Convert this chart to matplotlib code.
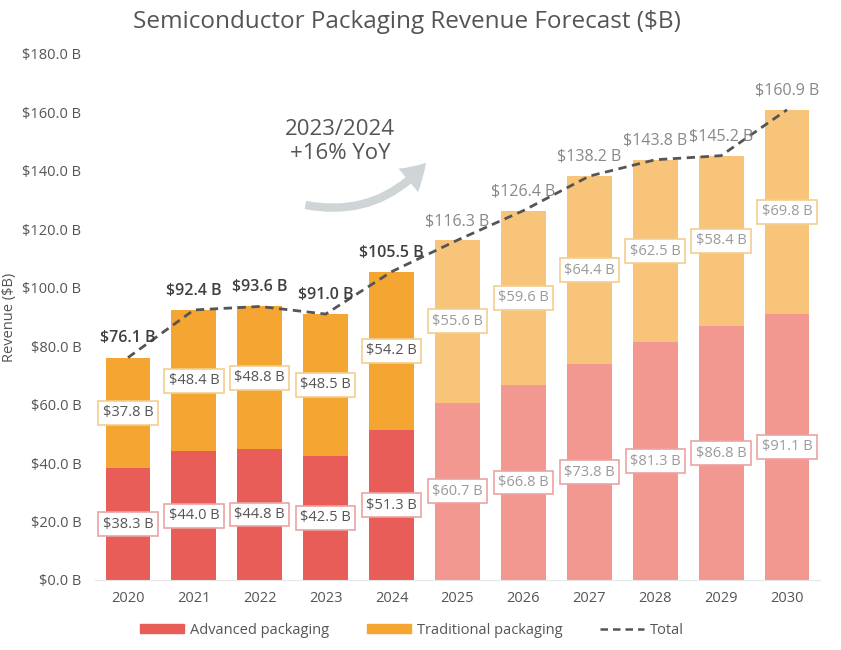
import matplotlib
matplotlib.use("Agg")
import matplotlib.pyplot as plt
from matplotlib.patches import FancyArrowPatch, Patch
from matplotlib.lines import Line2D
import numpy as np

years = ["2020", "2021", "2022", "2023", "2024", "2025", "2026", "2027", "2028", "2029", "2030"]
advanced = [38.3, 44.0, 44.8, 42.5, 51.3, 60.7, 66.8, 73.8, 81.3, 86.8, 91.1]
traditional = [37.8, 48.4, 48.8, 48.5, 54.2, 55.6, 59.6, 64.4, 62.5, 58.4, 69.8]
total = [76.1, 92.4, 93.6, 91.0, 105.5, 116.3, 126.4, 138.2, 143.8, 145.2, 160.9]
forecast_start = 5  # index of first forecast year
yticks = [0, 20, 40, 60, 80, 100, 120, 140, 160, 180]

plt.rcParams['font.family'] = ['Open Sans', 'DejaVu Sans']

fig = plt.figure(figsize=(8.41, 6.5), dpi=100)
ax = fig.add_axes([0.113, 0.1077, 0.862, 0.8093])

x = np.arange(len(years))
adv_col = ["#E85D57" if i < forecast_start else "#F29891" for i in x]
trad_col = ["#F5A531" if i < forecast_start else "#F8C47A" for i in x]

w = 0.68
ax.bar(x, advanced, w, color=adv_col, zorder=2)
ax.bar(x, traditional, w, bottom=advanced, color=trad_col, zorder=2)

ax.plot(x, total, linestyle=(0, (3, 2)), color="#555555", lw=2, zorder=3)

for i in x:
    past = i < forecast_start
    tc = "#555555" if past else "#9a9a9a"
    ax.text(i, advanced[i] / 2, f"${advanced[i]:.1f} B", ha="center", va="center",
            fontsize=10.5, color=tc, zorder=5,
            bbox=dict(boxstyle="square,pad=0.3", fc="white", ec="#EBA3A3", lw=1.2))
    ax.text(i, advanced[i] + traditional[i] / 2, f"${traditional[i]:.1f} B", ha="center",
            va="center", fontsize=10.5, color=tc, zorder=5,
            bbox=dict(boxstyle="square,pad=0.3", fc="white", ec="#F3CD8E", lw=1.2))
    ax.annotate(f"${total[i]:.1f} B", (i, total[i]), xytext=(0, 8), textcoords="offset points",
                ha="center", va="bottom", fontsize=11.5,
                color="#3f3f3f" if past else "#888888",
                fontweight="semibold" if past else "normal", zorder=5)

ax.set_xlim(-0.5, 10.5)
ax.set_ylim(0, 180)
ax.set_yticks(yticks)
ax.set_yticklabels([f"${v:.1f} B" for v in yticks])
ax.set_xticks(x)
ax.set_xticklabels(years)
ax.tick_params(axis="both", length=0, labelsize=10.5, labelcolor="#555555")
ax.tick_params(axis="x", pad=8)
ax.tick_params(axis="y", pad=10)
for s in ["top", "right", "left"]:
    ax.spines[s].set_visible(False)
ax.spines["bottom"].set_color("#e6e6e6")
ax.set_ylabel("Revenue ($B)", fontsize=10.5, color="#555555", labelpad=4)

fig.text(0.484, 0.966, "Semiconductor Packaging Revenue Forecast ($B)", ha="center", va="center",
         fontsize=17.5, color="#555555")

# YoY annotation
ax.text(3.22, 150, "2023/2024\n+16% YoY", ha="center", va="center", fontsize=16,
        color="#555555", linespacing=1.2)
arrow = FancyArrowPatch((2.65, 128.5), (4.55, 143.5), connectionstyle="arc3,rad=0.3",
                        arrowstyle="simple,head_width=22,head_length=18,tail_width=6",
                        color="#cfd4d6", lw=0, zorder=1)
ax.add_patch(arrow)

handles = [Patch(color="#E85D57"), Patch(color="#F5A531"),
           Line2D([0], [0], color="#555555", lw=1.8, linestyle=(0, (3, 2)))]
leg = fig.legend(handles, ["Advanced packaging", "Traditional packaging", "Total"],
                 loc="center", bbox_to_anchor=(0.49, 0.03), ncol=3, frameon=False,
                 fontsize=10.5, handlelength=3.0, handleheight=0.6, columnspacing=2.6,
                 handletextpad=0.4, labelcolor="#555555")

fig.savefig("out.png", dpi=100, facecolor="white")
